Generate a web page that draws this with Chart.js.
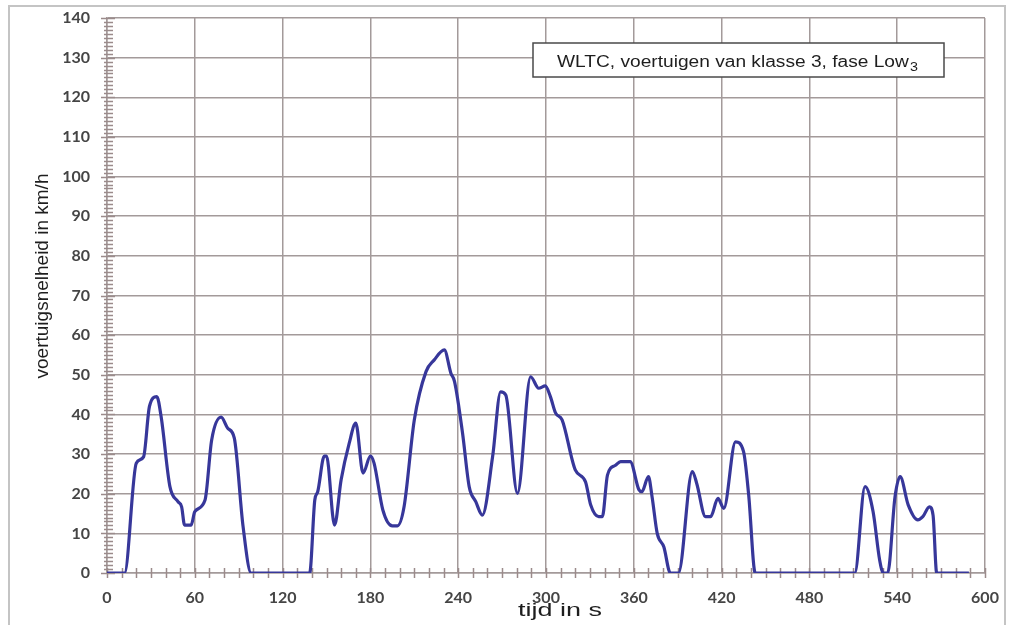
<!DOCTYPE html>
<html>
<head>
<meta charset="utf-8">
<script src="https://cdn.jsdelivr.net/npm/chart.js@4/dist/chart.umd.min.js"></script>
<style>
  html, body { margin: 0; padding: 0; background: #fff; }
  #wrap { width: 1009px; height: 625px; position: relative; }
</style>
</head>
<body>
<div id="wrap"><canvas id="c" width="1009" height="625"></canvas></div>
<script>
// WLTC class 3, Low phase: time (s) and vehicle speed (km/h)
const timeSeconds = [
  0, 12, 20, 25, 29, 34, 37, 43, 48.5, 51, 53, 57.5, 60, 67, 71.5, 78, 82.5, 87, 93, 98.5,
  138.5, 142, 144, 148.5, 150, 155.5, 160, 165.5, 170, 175, 180, 182.5, 188.5, 195, 198.5, 203,
  210, 218, 223.5, 230.5, 235, 237.5, 243, 247.5, 252, 256.5, 263.5, 269, 272.5, 280.5, 289.5,
  295, 299.5, 303, 306.5, 311, 320, 327, 330.5, 336, 338.5, 342, 347.5, 351, 357.5, 363.5,
  365.5, 370, 372.5, 376, 380.5, 385, 390.5, 400, 403, 409, 412.5, 417.5, 421.5, 429.5, 435,
  438.5, 443, 511, 518, 523.5, 528, 530.5, 533.5, 538.5, 542, 547.5, 554, 557.5, 562, 564.5,
  567, 589
];
const speedKmh = [
  0, 0, 27.7, 29.3, 42, 44.5, 39.4, 21.8, 18, 16.7, 12.1, 12.1, 15.5, 18.4, 33.5, 39.3, 36.5, 34, 11.7, 0,
  0, 18.4, 20.5, 29.5, 29.5, 12.1, 23.5, 32.7, 37.8, 25.2, 29.5, 27.7, 15.9, 11.9, 11.9, 16.7,
  38.6, 50.8, 53.7, 56.3, 50.4, 48.3, 35.2, 21.8, 18, 14.6, 29.3, 45.7, 44.9, 20.1, 49.5,
  46.6, 47.2, 44.5, 40.4, 38.6, 26, 23, 17.2, 14.2, 14.2, 24.7, 27.2, 28.1, 28.1, 21,
  20.5, 24.3, 19.2, 10, 6.6, 0, 0, 25.6, 22.6, 14.2, 14.2, 18.8, 16.3, 33.1, 30.6,
  19.7, 0, 0, 21.8, 15.5, 3.3, 0, 0, 19.2, 24.3, 17.2, 13.4, 14.2, 16.7, 14.6,
  0, 0
];

// Axis ranges and tick spacing
const xTickValues = [0, 60, 120, 180, 240, 300, 360, 420, 480, 540, 600];
const yTickValues = [0, 10, 20, 30, 40, 50, 60, 70, 80, 90, 100, 110, 120, 130, 140];
const xMinorStep = 10;
const yMinorStep = 1;

// Texts
const boxText = 'WLTC, voertuigen van klasse 3, fase Low';
const boxSub = '3';
const xTitle = 'tijd in s';
const yTitle = 'voertuigsnelheid in km/h';

const points = timeSeconds.map((t, i) => ({ x: t, y: speedKmh[i] }));

const gridColor = '#a39a9a';
const tickColor = '#9b8b8b';
const tickFont = { family: "Lato, 'Liberation Sans', sans-serif", size: 16, weight: 'bold' };
const textFamily = "'Liberation Sans', Arial, sans-serif";

// draws text horizontally scaled so that it spans a given width
function fitText(ctx, text, cx, cy, width) {
  const w = ctx.measureText(text).width;
  ctx.save();
  ctx.translate(cx, cy);
  ctx.scale(width / w, 1);
  ctx.fillText(text, 0, 0);
  ctx.restore();
}

const decorations = {
  id: 'decorations',
  beforeDraw(chart) {
    const ctx = chart.ctx;
    ctx.save();
    ctx.fillStyle = '#ffffff';
    ctx.fillRect(0, 0, chart.width, chart.height);
    ctx.strokeStyle = '#c4c4c4';
    ctx.lineWidth = 2;
    ctx.strokeRect(9, 6, 996, 700);
    ctx.restore();
  },
  beforeDatasetsDraw(chart) {
    const ctx = chart.ctx;
    const xs = chart.scales.x, ys = chart.scales.y;
    const area = chart.chartArea;
    ctx.save();
    ctx.strokeStyle = tickColor;
    ctx.lineWidth = 1.5;
    ctx.beginPath();
    for (let v = xs.min; v <= xs.max; v += xMinorStep) {
      const px = Math.round(xs.getPixelForValue(v)) + 0.5;
      ctx.moveTo(px, area.bottom - 5);
      ctx.lineTo(px, area.bottom + 5);
    }
    for (let v = ys.min; v <= ys.max; v += yMinorStep) {
      const py = Math.round(ys.getPixelForValue(v)) + 0.5;
      const major = v % 10 === 0;
      ctx.moveTo(area.left - (major ? 6 : 3), py);
      ctx.lineTo(area.left + (major ? 8 : 6), py);
    }
    ctx.stroke();
    ctx.restore();
  },
  afterDatasetsDraw(chart) {
    const ctx = chart.ctx;
    ctx.save();
    // annotation box
    const bx = 533, by = 43, bw = 411, bh = 34;
    ctx.fillStyle = '#ffffff';
    ctx.fillRect(bx, by, bw, bh);
    ctx.strokeStyle = '#4a4a4a';
    ctx.lineWidth = 1.5;
    ctx.strokeRect(bx, by, bw, bh);
    ctx.fillStyle = '#1e1e1e';
    ctx.textBaseline = 'alphabetic';
    ctx.textAlign = 'left';
    ctx.font = '16px ' + textFamily;
    const mainW = ctx.measureText(boxText).width;
    ctx.font = '12px ' + textFamily;
    const subW = ctx.measureText(boxSub).width;
    const total = 361;
    const k = total / (mainW + subW + 1);
    ctx.save();
    ctx.translate(557, 66.5);
    ctx.scale(k, 1);
    ctx.font = '16px ' + textFamily;
    ctx.fillText(boxText, 0, 0);
    ctx.font = '12px ' + textFamily;
    ctx.fillText(boxSub, mainW + 1, 4);
    ctx.restore();

    // axis titles
    ctx.fillStyle = '#1e1e1e';
    ctx.font = '19px ' + textFamily;
    ctx.textAlign = 'center';
    ctx.textBaseline = 'middle';
    fitText(ctx, xTitle, 560, 611, 84);
    ctx.translate(43, 276);
    ctx.rotate(-Math.PI / 2);
    ctx.fillText(yTitle, 0, 0);
    ctx.restore();
  }
};

new Chart(document.getElementById('c'), {
  type: 'line',
  data: {
    datasets: [{
      data: points,
      borderColor: '#37379a',
      borderWidth: 3.2,
      pointRadius: 0,
      fill: false,
      cubicInterpolationMode: 'monotone'
    }]
  },
  options: {
    responsive: false,
    devicePixelRatio: 1,
    animation: false,
    layout: { padding: { top: 18, right: 24, left: 0, bottom: 0 } },
    plugins: { legend: { display: false }, tooltip: { enabled: false } },
    scales: {
      x: {
        type: 'linear',
        min: 0,
        max: 600,
        afterBuildTicks(scale) { scale.ticks = xTickValues.map(v => ({ value: v })); },
        afterFit(scale) {
          scale.height = 52;
          scale.paddingLeft = 0;
          scale.paddingRight = 0;
        },
        ticks: { color: '#454545', font: tickFont, padding: 15, maxRotation: 0, autoSkip: false },
        grid: { color: gridColor, lineWidth: 1.5, drawTicks: false },
        border: { color: gridColor, width: 1.5 }
      },
      y: {
        min: 0,
        max: 140,
        afterBuildTicks(scale) { scale.ticks = yTickValues.map(v => ({ value: v })); },
        afterFit(scale) {
          scale.width = 107;
          scale.paddingTop = 0;
          scale.paddingBottom = 0;
        },
        ticks: { color: '#454545', font: tickFont, padding: 17, autoSkip: false },
        grid: { color: gridColor, lineWidth: 1.5, drawTicks: false },
        border: { color: gridColor, width: 1.5 }
      }
    }
  },
  plugins: [decorations]
});
</script>
</body>
</html>
